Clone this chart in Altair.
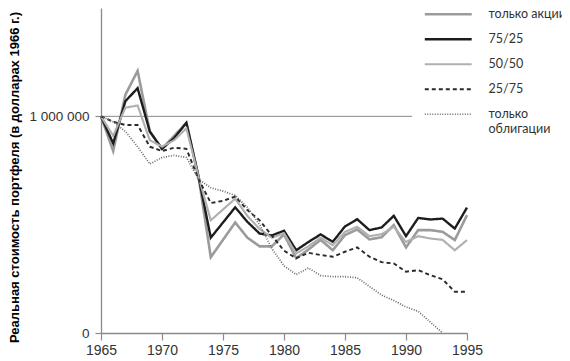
import altair as alt
import pandas as pd

# ---- data (values in millions of 1966 dollars) ----
years = list(range(1965, 1996))
stocks = [1.00, 0.84, 1.10, 1.21, 0.93, 0.85, 0.91, 0.97, 0.72, 0.35, 0.43, 0.51, 0.44, 0.40, 0.40,
          0.455, 0.345, 0.385, 0.43, 0.382, 0.452, 0.478, 0.432, 0.442, 0.498, 0.395, 0.475, 0.475,
          0.467, 0.429, 0.544]
mix_75_25 = [1.00, 0.875, 1.07, 1.13, 0.93, 0.85, 0.90, 0.97, 0.72, 0.44, 0.51, 0.58, 0.513, 0.459,
             0.45, 0.472, 0.382, 0.42, 0.455, 0.421, 0.492, 0.525, 0.475, 0.487, 0.541, 0.447, 0.531,
             0.524, 0.528, 0.482, 0.579]
mix_50_50 = [1.00, 0.91, 1.04, 1.05, 0.89, 0.86, 0.89, 0.945, 0.72, 0.52, 0.57, 0.62, 0.54, 0.48,
             0.44, 0.46, 0.367, 0.40, 0.44, 0.405, 0.467, 0.49, 0.447, 0.456, 0.49, 0.42, 0.447,
             0.436, 0.43, 0.382, 0.429]
mix_25_75 = [1.00, 0.975, 0.96, 0.96, 0.86, 0.84, 0.855, 0.85, 0.71, 0.60, 0.61, 0.63, 0.567, 0.52,
             0.45, 0.38, 0.345, 0.37, 0.36, 0.352, 0.375, 0.395, 0.352, 0.327, 0.321, 0.283, 0.29,
             0.267, 0.248, 0.19, 0.19]
bonds = [1.00, 0.975, 0.93, 0.86, 0.78, 0.81, 0.82, 0.81, 0.71, 0.67, 0.655, 0.635, 0.58, 0.50,
         0.39, 0.31, 0.27, 0.30, 0.265, 0.26, 0.26, 0.255, 0.215, 0.175, 0.15, 0.12, 0.10, 0.05, 0.0]

series_names = ["только акции", "75/25", "50/50", "25/75", "только облигации"]
series_values = [stocks, mix_75_25, mix_50_50, mix_25_75, bonds]
series_colors = ["#9b9b9b", "#1c1c1c", "#b0b0b0", "#2a2a2a", "#6a6a6a"]
series_dash = [[1, 0], [1, 0], [1, 0], [4, 3], [1, 1.5]]
series_width = [2.6, 1.7, 1.2, 1.0, 1.0]

x_ticks = [1965, 1970, 1975, 1980, 1985, 1990, 1995]
y_ticks = [0, 1000000]
y_tick_labels = ["0", "1 000 000"]
ref_level = [1000000]
ref_start = [1965]
ref_end = [1990.5]

y_title = "Реальная стоимость портфеля (в долларах 1966 г.)"

rows = []
for name, vals in zip(series_names, series_values):
    for yr, v in zip(years, vals):
        rows.append({"series": name, "year": yr, "value": v * 1_000_000})
df = pd.DataFrame(rows)
ref_df = pd.DataFrame({"x": ref_start, "x2": ref_end, "y": ref_level})

FONT = "Liberation Sans"
LEGEND_FONT = "Lato, Roboto, Liberation Sans"
label_expr = " : ".join(
    [f"datum.value == {v} ? '{l}'" for v, l in zip(y_ticks[:-1], y_tick_labels[:-1])]
    + [f"'{y_tick_labels[-1]}'"]
)

x_scale = alt.Scale(domain=[1965, 1995], nice=False, zero=False)
y_scale = alt.Scale(domain=[0, 1500000], nice=False)

legend = alt.Legend(
    title=None, orient="none", legendX=341, legendY=0, padding=0,
    symbolType="M-5,0H5", symbolSize=88, labelOffset=34, rowPadding=12,
    labelFont=LEGEND_FONT, labelFontSize=12.5, labelColor="#333333", labelLimit=200,
    labelExpr="datum.label == 'только облигации' ? ['только', 'облигации'] : datum.label",
)

rule = alt.Chart(ref_df).mark_rule(color="#8a8a8a", strokeWidth=1).encode(
    x=alt.X("x:Q", scale=x_scale), x2="x2:Q", y=alt.Y("y:Q", scale=y_scale)
)

lines = alt.Chart(df).mark_line(strokeJoin="miter", strokeCap="butt").encode(
    x=alt.X("year:Q", scale=x_scale, axis=alt.Axis(
        values=x_ticks, format="d", title=None, grid=False, labelFlush=False,
        labelFont=FONT, labelFontSize=14, labelColor="#333333", labelPadding=3,
        tickSize=7, tickColor="#8a8a8a", domainColor="#8a8a8a", domainWidth=1.3, tickWidth=1.2)),
    y=alt.Y("value:Q", scale=y_scale, axis=alt.Axis(
        values=y_ticks, labelExpr=label_expr, title=y_title, grid=False,
        labelFont=FONT, labelFontSize=13.5, labelColor="#333333", labelPadding=6,
        tickSize=6, tickColor="#8a8a8a", domainColor="#8a8a8a", domainWidth=1.3, tickWidth=1.2,
        titleFont=FONT, titleFontSize=13, titleFontWeight="bold", titleColor="#000000",
        titleX=-87, titleY=169, titleBaseline="middle", titleAlign="center")),
    color=alt.Color("series:N", scale=alt.Scale(domain=series_names, range=series_colors), legend=legend),
    strokeDash=alt.StrokeDash("series:N", scale=alt.Scale(domain=series_names, range=series_dash), legend=legend),
    strokeWidth=alt.StrokeWidth("series:N", scale=alt.Scale(domain=series_names, range=series_width), legend=legend),
    order=alt.Order("year:Q"),
)

chart = alt.layer(rule, lines).properties(
    width=366, height=325,
    autosize=alt.AutoSizeParams(type="none"),
    padding={"left": 93, "top": 0, "right": 95, "bottom": 30},
).configure_view(stroke=None)

chart.save("out.html", embed_options={"renderer": "svg", "actions": False})
